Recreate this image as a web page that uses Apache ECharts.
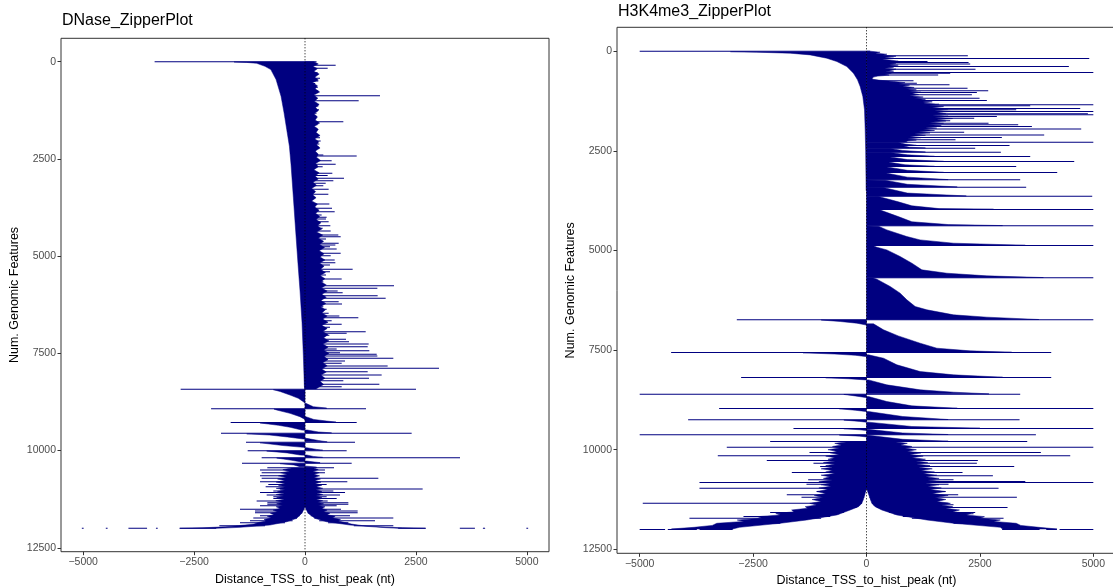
<!DOCTYPE html>
<html><head><meta charset="utf-8">
<script src="https://cdn.jsdelivr.net/npm/echarts@6/dist/echarts.min.js"></script>
<style>html,body{margin:0;padding:0;background:#fff}#c{width:1113px;height:588px}</style>
</head><body><div id="c"></div><script>
const titles = ['DNase_ZipperPlot', 'H3K4me3_ZipperPlot'];
const xName = 'Distance_TSS_to_hist_peak (nt)';
const yName = 'Num. Genomic Features';
const xTicks = [-5000, -2500, 0, 2500, 5000];
const yTicks = [0, 2500, 5000, 7500, 10000, 12500];
const vlineX = [0];

// rows drawn as single lines: [rank, start, end]
const dnaseLines = [
[0,-3390,260],
[62,0,263],[96,0,691],[173,0,511],[285,0,286],[350,0,230],[430,0,338],[500,0,300],[560,0,230],[660,0,290],[756,0,300],
[876,0,1690],[1005,0,1210],[1140,0,300],[1240,0,315],[1330,0,260],[1440,0,190],[1544,0,864],[1620,0,280],[1770,0,230],
[1956,0,338],[2040,0,353],[2120,0,323],[2190,0,300],[2280,0,250],[2400,0,413],[2427,0,1165],[2550,0,601],[2641,0,691],[2701,0,398],
[2872,0,616],[2930,0,511],[3001,0,879],[3061,0,639],[3130,0,466],[3190,0,413],[3284,0,533],[3345,0,225],[3412,0,526],[3540,0,165],
[3661,0,549],[3772,0,609],[3858,0,669],[3944,0,375],[4003,0,488],[4046,0,473],[4115,0,533],[4218,0,571],[4286,0,398],[4355,0,579],
[4458,0,751],[4500,0,804],[4560,0,473],[4672,0,759],[4715,0,684],[4758,0,563],[4818,0,714],[4929,0,804],[4989,0,579],[5100,0,669],
[5169,0,684],[5229,0,563],[5340,0,1074],[5400,0,563],[5486,0,473],[5589,0,827],[5657,0,413],[5760,0,2006],[5829,0,1631],[5897,0,736],
[5940,0,849],[6018,0,1638],[6086,0,1818],[6172,0,759],[6232,0,834],[6300,0,413],[6369,0,488],[6472,0,533],[6540,0,774],[6583,0,1202],
[6660,0,601],[6755,0,827],[6832,0,563],[6943,0,1368],[6986,0,939],[7037,0,549],[7140,0,924],[7200,0,992],[7260,0,1435],[7329,0,1413],
[7389,0,714],[7432,0,1450],[7483,0,789],[7526,0,1616],[7569,0,1631],[7629,0,1991],[7697,0,902],[7757,0,827],[7826,0,1863],[7886,0,3021],
[7972,0,1413],[8057,0,1728],[8143,0,1443],[8203,0,864],[8297,0,1676],[8357,0,827],
[8426,-2803,2502],[8923,-2117,1375],[9275,-1676,1165],[9557,-1894,2404],[9789,-1330,1127],[10003,-1292,939],[10183,-977,3494],
[10329,-1420,1052],[10440,-849,654],
[10500,-1014,450],[10569,-977,450],[10646,-1014,263],[10714,-977,1653],[10800,-1014,954],[10870,-827,488],[10929,-887,263],
[10989,-564,2652],[11040,-714,639],[11075,-1014,902],[11143,-864,789],[11186,-714,488],[11229,-714,714],[11297,-1090,511],
[11340,-849,977],[11383,-849,977],[11420,-1014,714],
[11511,-1465,-30],[11511,30,811],[11555,-1127,-50],[11555,50,1187],[11597,-1127,-60],[11597,60,1187],
[11674,-1014,-120],[11674,130,1014],[11735,-1165,-180],[11735,210,1991],[11803,-1240,-280],[11803,320,1578],
[11854,-1465,-450],[11854,520,977],[11931,-1931,-900],[11931,1100,1991],
[12000,-2824,-2000],[12000,2100,2719],
[12000,-5030,-4990],[12000,-4490,-4450],[12000,-3980,-3560],[12000,-3360,-3320],[12000,3490,3830],[12000,4010,4060],[12000,4990,5030]
];

// filled outlines: lists of [rank, distance]
const dnaseShapes = [
[[8,0],[8,-1600],[20,-1315],[43,-1090],[120,-902],[205,-770],[462,-652],[890,-540],[1317,-472],[1745,-412],[2173,-352],[2644,-315],[3500,-262],[4355,-210],[5210,-157],[5900,-112],[6707,-67],[7563,-37],[8333,-15],[8415,-8],[8415,0]],
[[0,0],[0,200],[60,300],[120,180],[180,280],[250,200],[320,320],[400,220],[470,300],[540,170],[620,280],[700,230],[780,330],[860,200],[940,290],[1020,210],[1100,320],[1180,240],[1260,300],[1340,200],[1420,280],[1500,230],[1580,330],[1660,210],[1740,300],[1820,250],[1900,340],[1980,220],[2060,310],[2140,260],[2220,340],[2300,230],[2380,300],[2460,260],[2540,350],[2620,240],[2700,300],[2780,200],[2860,320],[2940,230],[3020,300],[3100,180],[3180,260],[3260,150],[3340,240],[3420,170],[3500,250],[3580,150],[3660,280],[3740,220],[3820,320],[3900,240],[3980,330],[4060,250],[4140,360],[4220,280],[4300,380],[4380,260],[4460,400],[4540,300],[4620,420],[4700,330],[4780,440],[4860,320],[4940,430],[5020,340],[5100,450],[5180,330],[5260,430],[5340,350],[5420,460],[5500,340],[5580,450],[5660,360],[5740,480],[5820,370],[5900,500],[5980,380],[6060,480],[6140,360],[6220,470],[6300,350],[6380,460],[6460,380],[6540,500],[6620,400],[6700,520],[6780,380],[6860,500],[6940,400],[7020,520],[7100,420],[7180,540],[7260,400],[7340,520],[7420,420],[7500,540],[7580,430],[7660,520],[7740,400],[7820,500],[7900,380],[7980,480],[8060,360],[8140,450],[8220,340],[8300,420],[8380,300],[8415,250],[8415,0]],
[[8435,0],[8435,-714],[8480,-563],[8572,-338],[8657,-150],[8743,-38],[8786,0]],
[[8786,0],[8786,20],[8872,188],[8905,488],[8915,488],[8915,0]],
[[8932,0],[8932,-700],[8957,-639],[9043,-338],[9129,-113],[9180,-30],[9200,0]],
[[9129,0],[9129,20],[9200,200],[9240,488],[9268,700],[9268,0]],
[[9290,0],[9290,-1014],[9350,-600],[9400,-338],[9472,-75],[9480,0]],
[[9472,0],[9472,50],[9520,300],[9545,600],[9545,0]],
[[9570,0],[9570,-1314],[9600,-800],[9650,-400],[9703,-38],[9710,0]],
[[9686,0],[9686,38],[9740,300],[9775,500],[9775,0]],
[[9800,0],[9800,-1014],[9870,-500],[9917,-38],[9925,0]],
[[9926,0],[9926,38],[9970,263],[9990,400],[9990,0]],
[[10012,0],[10012,-864],[10060,-400],[10114,-113],[10120,0]],
[[10114,0],[10114,40],[10150,188],[10175,400],[10175,0]],
[[10190,0],[10190,-639],[10250,-300],[10286,-113],[10290,0]],
[[10270,0],[10270,40],[10310,338],[10320,338],[10320,0]],
[[10336,0],[10336,-563],[10370,-250],[10415,-113],[10415,0]],
[[10400,0],[10400,40],[10425,263],[10435,263],[10435,0]],
[[10445,0],[10445,-300],[10490,-500],[10530,-350],[10570,-550],[10610,-400],[10650,-600],[10690,-420],[10730,-620],[10770,-450],[10810,-650],[10850,-450],[10890,-600],[10930,-430],[10970,-650],[11010,-450],[11050,-620],[11090,-460],[11130,-650],[11170,-480],[11210,-640],[11250,-470],[11290,-660],[11330,-500],[11370,-640],[11410,-500],[11444,-650],[11490,-560],[11530,-720],[11570,-620],[11610,-780],[11650,-700],[11690,-850],[11730,-760],[11770,-920],[11810,-880],[11850,-1050],[11890,-1150],[11930,-1500],[11960,-1800],[11985,-2300],[12000,-2824],
 [12000,-2000],[11974,-1465],[11915,-789],[11830,-413],[11743,-188],[11615,-75],[11500,-20],[11444,0],[11500,20],[11615,75],[11743,225],[11830,488],[11915,1014],[11974,1691],[12000,2100],
 [12000,2719],[11985,2200],[11960,1700],[11930,1300],[11890,1050],[11850,900],[11810,750],[11770,800],[11730,620],[11690,680],[11650,500],[11610,560],[11570,420],[11530,500],[11490,380],[11444,450],[11410,300],[11370,420],[11330,280],[11290,400],[11250,260],[11210,380],[11170,250],[11130,400],[11090,260],[11050,380],[11010,240],[10970,400],[10930,250],[10890,380],[10850,230],[10810,360],[10770,220],[10730,350],[10690,200],[10650,330],[10610,200],[10570,320],[10530,180],[10490,300],[10445,200],[10445,0]]
];

const h3Lines = [
[0,-5000,80],
[117,0,2234],[184,0,4910],[259,0,1345],[284,0,2250],[318,0,2286],[385,0,4461],[451,0,2403],[535,0,5000],[552,0,1845],[594,0,1580],
[744,0,1036],[803,0,1110],[844,0,1830],[928,0,2227],[995,0,2683],[1037,0,2433],[1095,0,2323],[1179,0,2492],[1237,0,2653],[1346,0,5000],
[1371,0,3609],[1438,0,4711],[1471,0,3300],[1513,0,5000],[1572,0,4880],[1597,0,5000],[1638,0,2874],[1680,0,2374],[1747,0,1845],[1806,0,2690],
[1847,0,3344],[1889,0,3646],[1950,0,4733],[2033,0,2153],[2100,0,3917],[2167,0,2984],[2225,0,1962],
[2284,0,5000],[2367,0,3153],[2434,0,2396],[2535,0,2962],[2643,0,3609],[2769,0,4579],[2894,0,3300],[3045,0,4204],[3228,0,3388],
[3412,0,3520],[3638,0,4976],[3972,0,5000],[4382,0,5000],[4877,0,5000],[5688,0,5000],
[6741,-2859,5000],[7562,-4307,4072],[8189,-2764,4072],[8607,-5000,3388],[8967,-3249,5000],[9251,-3932,3374],[9468,-1610,5000],
[9627,-5000,3734],[9794,-2124,3543],
[9938,-3080,5000],[10072,-1257,3844],[10155,-3278,4491],[10272,-2198,2455],[10339,-1169,2433],[10423,-1022,3256],[10573,-1646,2117],
[10657,-875,2786],[10757,-1286,1918],[10799,-900,3500],[10824,-3682,5000],[10866,-1323,1808],[10966,-3682,2911],
[11050,-1095,-20],[11050,40,1734],[11133,-1757,-40],[11133,55,2021],[11192,-1433,-50],[11192,65,3315],[11259,-1029,-70],[11259,90,1616],
[11342,-4932,-100],[11342,118,1808],[11384,-889,-140],[11384,150,1918],[11451,-1073,-220],[11451,230,3109],[11577,-2124,-500],[11577,500,2396],
[11610,-1617,-600],[11610,600,2359],[11677,-2712,-800],[11677,800,1800],[11719,-3903,-1000],[11719,1000,3021],[11844,-2969,-1900],[11844,1918,2543],
[12000,-5000,-4440],[12000,-4380,-3740],[12000,-3680,-2950],[12000,2990,3815],[12000,3962,4197],[12000,4256,5000]
];

const h3Shapes = [
[[12,0],[12,-3000],[25,-2418],[50,-1683],[92,-1242],[176,-875],[259,-654],[385,-434],[552,-287],[719,-198],[886,-140],[1137,-81],[1471,-44],[1973,-29],[2500,-18],[3500,-8],[3500,0]],
[[0,0],[0,80],[25,300],[50,200],[75,450],[100,350],[125,650],[150,400],[175,600],[200,350],[225,550],[250,700],[275,450],[300,650],[325,500],[350,700],[375,450],[400,600],[425,400],[450,650],[475,500],[500,600],[525,350],[550,550],[575,400],[600,500],[625,250],[650,150],[700,120],[730,300],[760,600],[790,850],[820,700],[850,950],[880,800],[910,1050],[940,850],[970,1100],[1000,950],[1030,1200],[1060,1000],[1090,1150],[1120,950],[1150,1250],[1180,1050],[1210,1300],[1240,1100],[1270,1450],[1300,1250],[1330,1600],[1360,1350],[1390,1700],[1420,1450],[1450,1800],[1480,1500],[1510,1850],[1540,1550],[1570,1750],[1600,1450],[1630,1800],[1660,1500],[1690,1900],[1720,1550],[1750,1750],[1780,1400],[1810,1700],[1840,1350],[1870,1650],[1900,1300],[1930,1550],[1960,1250],[1990,1500],[2020,1150],[2050,1400],[2080,1050],[2110,1300],[2140,950],[2170,1200],[2200,900],[2230,1100],[2260,850],[2278,900],[2278,0]],
[[2290,0],[2292,700],[2330,850],[2362,1100],[2362,0]],
[[2372,0],[2375,800],[2410,950],[2428,1300],[2428,0]],
[[2440,0],[2443,520],[2490,800],[2530,1300],[2530,0]],
[[2540,0],[2543,520],[2600,900],[2638,1500],[2638,0]],
[[2648,0],[2652,520],[2720,900],[2764,1700],[2764,0]],
[[2774,0],[2777,450],[2850,850],[2889,1500],[2889,0]],
[[2899,0],[2903,450],[2990,900],[3040,1700],[3040,0]],
[[3050,0],[3053,410],[3160,900],[3222,1800],[3222,0]],
[[3233,0],[3237,410],[3340,900],[3406,2000],[3406,0]],
[[3417,0],[3420,370],[3560,900],[3632,2200],[3632,0]],
[[3643,0],[3646,265],[3780,700],[3880,1000],[3950,1600],[3966,2800],[3966,0]],
[[3977,0],[3981,290],[4150,700],[4280,1000],[4350,1800],[4376,3000],[4376,0]],
[[4387,0],[4391,265],[4484,448],[4651,890],[4735,1183],[4818,1918],[4870,3500],[4870,0]],
[[4882,0],[4882,150],[4919,228],[4986,448],[5153,742],[5320,1000],[5487,1220],[5571,1771],[5638,2653],[5680,3900],[5680,0]],
[[5692,0],[5692,150],[5721,228],[5905,522],[6072,742],[6240,890],[6407,1073],[6490,1330],[6616,1918],[6674,2653],[6733,3800],[6733,0]],
[[6745,0],[6745,-1000],[6783,-580],[6825,-213],[6867,-29],[6880,0]],
[[6841,0],[6841,154],[6992,375],[7144,700],[7328,1183],[7453,1551],[7520,2286],[7554,3200],[7554,0]],
[[7568,0],[7568,-1400],[7600,-700],[7630,-250],[7662,-20],[7670,0]],
[[7620,0],[7620,44],[7704,375],[7871,670],[8039,1183],[8122,1918],[8181,3000],[8181,0]],
[[8195,0],[8195,-900],[8220,-400],[8248,-20],[8255,0]],
[[8248,0],[8248,44],[8373,448],[8498,1183],[8557,1918],[8599,2700],[8599,0]],
[[8613,0],[8613,-500],[8650,-250],[8691,-20],[8700,0]],
[[8666,0],[8666,44],[8791,448],[8900,1000],[8959,2000],[8959,0]],
[[8973,0],[8973,-600],[9010,-250],[9040,-20],[9045,0]],
[[9042,0],[9042,44],[9167,800],[9243,1800],[9243,0]],
[[9257,0],[9257,-500],[9290,-150],[9310,0]],
[[9309,0],[9309,44],[9418,1000],[9460,2500],[9460,0]],
[[9474,0],[9474,-500],[9500,-150],[9520,0]],
[[9490,0],[9490,44],[9580,800],[9619,1800],[9619,0]],
[[9633,0],[9633,-600],[9660,-150],[9680,0]],
[[9640,0],[9640,44],[9740,800],[9786,1800],[9786,0]],
[[9800,0],[9800,-400],[9840,-700],[9880,-550],[9920,-750],[9960,-600],[10000,-850],[10040,-650],[10080,-800],[10120,-600],[10160,-900],[10200,-700],[10240,-850],[10280,-650],[10320,-950],[10360,-700],[10400,-900],[10440,-750],[10480,-1000],[10520,-750],[10560,-900],[10600,-700],[10640,-1000],[10680,-800],[10720,-950],[10760,-750],[10800,-1050],[10840,-800],[10880,-1000],[10920,-780],[10960,-1050],[11000,-850],[11050,-1100],[11100,-900],[11150,-1150],[11200,-950],[11250,-1200],[11300,-1000],[11346,-1250],[11390,-1100],[11429,-1350],[11470,-1300],[11513,-1650],[11560,-1600],[11600,-2000],[11638,-1900],[11680,-2400],[11720,-2300],[11764,-2850],[11800,-2700],[11847,-3300],[11900,-3400],[11948,-3800],[11990,-4300],
 [11990,-2950],[11948,-2800],[11847,-1903],[11764,-1316],[11638,-654],[11513,-360],[11429,-176],[11346,-103],[11179,-50],[10970,0],[11179,65],[11346,118],[11429,191],[11513,338],[11638,669],[11764,1330],[11847,1918],[11948,2950],[11990,3000],
 [11990,4200],[11948,3800],[11900,3400],[11847,3300],[11800,2800],[11764,2950],[11720,2500],[11680,2600],[11638,2200],[11600,2300],[11560,1900],[11513,2050],[11470,1750],[11429,1900],[11390,1650],[11346,1850],[11300,1550],[11250,1750],[11200,1500],[11150,1800],[11100,1450],[11050,1750],[11000,1400],[10960,1650],[10920,1350],[10880,1600],[10840,1300],[10800,1650],[10760,1350],[10720,1600],[10680,1300],[10640,1550],[10600,1250],[10560,1500],[10520,1200],[10480,1450],[10440,1150],[10400,1400],[10360,1100],[10320,1350],[10280,1050],[10240,1300],[10200,1000],[10160,1250],[10120,950],[10080,1200],[10040,900],[10000,1100],[9960,850],[9920,1000],[9880,750],[9840,900],[9800,600],[9800,0]]
];

const NAVY = '#000080';
const FONT = '"Liberation Sans", Arial, Helvetica, sans-serif';
const chart = echarts.init(document.getElementById('c'), null, {renderer: 'canvas'});

function shapeSeries(shapes, gi) {
  return {
    type: 'custom', xAxisIndex: gi, yAxisIndex: gi, clip: true, silent: true, animation: false,
    data: shapes.map((s, i) => [s[0][1], s[0][0], i]),
    encode: {x: 0, y: 1},
    renderItem: (params, api) => {
      const s = shapes[api.value(2)];
      const pts = s.map(p => api.coord([p[1], p[0]]));
      return {type: 'polygon', shape: {points: pts}, style: {fill: NAVY, stroke: NAVY, lineWidth: 0.5}};
    }
  };
}
function lineSeries(lines, gi) {
  return {
    type: 'custom', xAxisIndex: gi, yAxisIndex: gi, clip: true, silent: true, animation: false,
    data: lines, encode: {x: [1, 2], y: 0},
    renderItem: (params, api) => {
      const r = api.value(0), a = api.value(1), b = api.value(2);
      const p1 = api.coord([a, r]), p2 = api.coord([b, r]);
      return {type: 'rect', shape: {x: Math.min(p1[0], p2[0]), y: p1[1] - 0.5, width: Math.max(1, Math.abs(p2[0] - p1[0])), height: 1}, style: {fill: NAVY}};
    }
  };
}
function vlineSeries(gi) {
  return {
    type: 'custom', xAxisIndex: gi, yAxisIndex: gi, silent: true, animation: false, z: 10,
    data: vlineX.map(v => [v]), encode: {x: 0},
    renderItem: (params, api) => {
      const a = api.coord([api.value(0), -600]), b = api.coord([api.value(0), 12600]);
      return {type: 'line', shape: {x1: a[0], y1: a[1], x2: b[0], y2: b[1]}, style: {stroke: '#000', lineWidth: 1, lineDash: [1, 2]}};
    }
  };
}

const grids = [
  {left: 61, top: 38.3, width: 488, height: 513.4},
  {left: 617, top: 27.3, width: 499, height: 526}
];
const titleTops = [13, 4];

chart.setOption({
  backgroundColor: '#fff',
  animation: false,
  title: titles.map((t, i) => ({text: t, left: grids[i].left + 1, top: titleTops[i], padding: 0,
    textStyle: {fontFamily: FONT, fontSize: 16, fontWeight: 'normal', color: '#000'}})),
  grid: grids.map(g => Object.assign({show: true, borderColor: '#333', borderWidth: 1, containLabel: false, outerBoundsMode: 'none'}, g)),
  xAxis: grids.map((g, i) => ({
    type: 'value', gridIndex: i, min: -5500, max: 5500, position: 'bottom',
    splitLine: {show: false}, axisLine: {show: false, onZero: false},
    axisTick: {show: true, customValues: xTicks, length: 3.5, lineStyle: {color: '#333'}},
    axisLabel: {customValues: xTicks, color: '#4d4d4d', fontSize: 10.5, fontFamily: FONT, margin: 5,
      formatter: v => String(v).replace('-', '−')},
    name: xName, nameLocation: 'middle', nameGap: 20,
    nameTextStyle: {fontFamily: FONT, fontSize: 12.5, color: '#000'}
  })),
  yAxis: grids.map((g, i) => ({
    type: 'value', gridIndex: i, min: -600, max: 12600, inverse: true, position: 'left',
    splitLine: {show: false}, axisLine: {show: false, onZero: false},
    axisTick: {show: true, customValues: yTicks, length: 3.5, lineStyle: {color: '#333'}},
    axisLabel: {customValues: yTicks, color: '#4d4d4d', fontSize: 10.5, fontFamily: FONT, margin: 5,
      formatter: v => String(v)},
    name: yName, nameLocation: 'middle', nameGap: 40, nameRotate: 90,
    nameTextStyle: {fontFamily: FONT, fontSize: 12.5, color: '#000'}
  })),
  series: [
    shapeSeries(dnaseShapes, 0), lineSeries(dnaseLines, 0), vlineSeries(0),
    shapeSeries(h3Shapes, 1), lineSeries(h3Lines, 1), vlineSeries(1)
  ]
});
</script></body></html>
